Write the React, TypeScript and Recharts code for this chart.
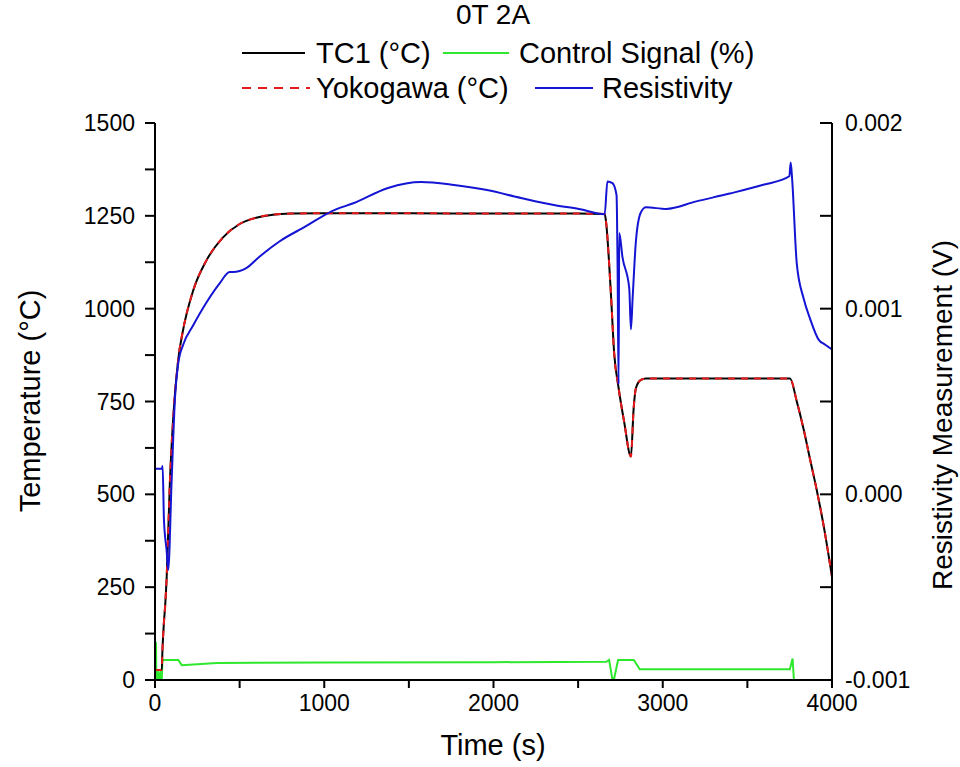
import React from 'react';
import { LineChart, Line, XAxis, YAxis, Legend } from 'recharts';

// ---- data ----
const tcTime = [0, 40, 44, 52, 60, 69, 88, 108, 137, 167, 225, 304, 402, 500, 598, 696, 800, 1000, 1500, 2000, 2500, 2657, 2663, 2693, 2713, 2739, 2772, 2812, 2828, 2842, 2871, 2900, 3300, 3752, 3792, 3832, 3871, 3911, 3950, 4000];
const tcTemp = [27, 27, 80, 150, 200, 276, 533, 708, 862, 945, 1048, 1130, 1192, 1228, 1245, 1253, 1256, 1257, 1257, 1256, 1256, 1255, 1241, 1046, 880, 787, 695, 602, 731, 787, 808, 812, 812, 812, 750, 676, 593, 509, 417, 278];

const ykTime = [0, 40, 44, 52, 60, 69, 88, 108, 137, 167, 225, 304, 402, 500, 598, 696, 800, 1000, 1500, 2000, 2500, 2657, 2663, 2693, 2713, 2739, 2772, 2812, 2828, 2842, 2871, 2900, 3300, 3752, 3792, 3832, 3871, 3911, 3950, 4000];
const ykTemp = [27, 27, 80, 150, 200, 276, 533, 708, 862, 945, 1048, 1130, 1192, 1228, 1245, 1253, 1256, 1257, 1257, 1256, 1256, 1255, 1241, 1046, 880, 787, 695, 602, 731, 787, 808, 812, 812, 812, 750, 676, 593, 509, 417, 278];

const ctrlTime = [0, 6, 8, 14, 16, 26, 34, 40, 44, 138, 158, 366, 1000, 2000, 2667, 2683, 2703, 2711, 2736, 2829, 2864, 3000, 3751, 3767, 3775, 3930];
const ctrlPct = [103, 100, 0, 0, 28, 0, 28, 0, 54, 54, 40, 46, 47, 48, 49, 54, 0, 0, 54, 54, 29, 29, 29, 58, 0, 0];

const resTime = [0, 40, 45, 53, 69, 78, 98, 118, 137, 167, 225, 304, 382, 441, 461, 539, 617, 735, 892, 1049, 1176, 1377, 1572, 1767, 1962, 2162, 2357, 2505, 2657, 2673, 2703, 2727, 2733, 2739, 2743, 2762, 2802, 2812, 2822, 2842, 2871, 2901, 3020, 3198, 3396, 3594, 3748, 3756, 3764, 3792, 3832, 3871, 3921, 3960, 4000];
const resVolt = [0.000138, 0.000138, 0.000152, -0.00014, -0.000305, -0.000407, 0.000066, 0.000519, 0.000704, 0.000807, 0.000909, 0.001033, 0.001136, 0.001197, 0.001197, 0.001218, 0.00128, 0.001362, 0.001444, 0.001527, 0.001569, 0.00165, 0.001682, 0.001666, 0.001639, 0.001596, 0.001558, 0.001537, 0.001509, 0.001685, 0.001676, 0.001611, 0.00124, 0.000593, 0.001407, 0.001278, 0.001111, 0.000889, 0.001056, 0.00137, 0.001519, 0.001546, 0.001537, 0.001578, 0.00162, 0.001667, 0.001713, 0.001787, 0.001704, 0.001241, 0.001056, 0.000944, 0.000833, 0.000806, 0.000781];

const xTicks = [0, 500, 1000, 1500, 2000, 2500, 3000, 3500, 4000];
const tempTicks = [0, 125, 250, 375, 500, 625, 750, 875, 1000, 1125, 1250, 1375, 1500];
const resTicks = [-0.001, -0.0005, 0, 0.0005, 0.001, 0.0015, 0.002];

const title = '0T 2A';
const seriesNames = ['TC1 (°C)', 'Control Signal (%)', 'Yokogawa (°C)', 'Resistivity'];
const axisTitles = { x: 'Time (s)', left: 'Temperature (°C)', right: 'Resistivity Measurement (V)' };

const toRows = (xs: number[], ys: number[]) => xs.map((t, i) => ({ t, v: ys[i] }));
const tcData = toRows(tcTime, tcTemp);
const ykData = toRows(ykTime, ykTemp);
const ctrlData = toRows(ctrlTime, ctrlPct);
const resData = toRows(resTime, resVolt);

const FONT = '"Liberation Sans", Arial, sans-serif';
const COLORS = { tc: '#000000', ctrl: '#2ee82e', yk: '#e8191a', res: '#1414d4' };

const LegendBox = () => (
  <svg width={960} height={123} style={{ display: 'block' }}>
    <text x={493} y={24} textAnchor="middle" fontSize={28} fontFamily={FONT} fill="#000">{title}</text>
    <line x1={242} x2={305} y1={53} y2={53} stroke={COLORS.tc} strokeWidth={2} />
    <text x={316} y={63} fontSize={29} fontFamily={FONT} fill="#000">{seriesNames[0]}</text>
    <line x1={443} x2={509} y1={53} y2={53} stroke={COLORS.ctrl} strokeWidth={2} />
    <text x={519} y={63} fontSize={29} fontFamily={FONT} fill="#000">{seriesNames[1]}</text>
    <line x1={242} x2={310} y1={88} y2={88} stroke={COLORS.yk} strokeWidth={2} strokeDasharray="9 7" />
    <text x={316} y={98} fontSize={29} fontFamily={FONT} fill="#000">{seriesNames[2]}</text>
    <line x1={535} x2={593} y1={88} y2={88} stroke={COLORS.res} strokeWidth={2} />
    <text x={602} y={98} fontSize={29} fontFamily={FONT} fill="#000">{seriesNames[3]}</text>
  </svg>
);

const AxisTitle = ({ px, py, rot, text, size }: { px: number; py: number; rot: number; text: string; size: number }) => (
  <text x={px} y={py} transform={rot ? `rotate(${rot} ${px} ${py})` : undefined} textAnchor="middle" dominantBaseline="central" fontSize={size} fontFamily={FONT} fill="#000">{text}</text>
);

const fmtX = (v: number) => (v % 1000 === 0 ? String(v) : '');
const fmtT = (v: number) => (v % 250 === 0 ? String(v) : '');
const fmtR = (v: number) => {
  const k = v * 1000;
  return Math.abs(k - Math.round(k)) < 1e-6 ? (Math.round(k) / 1000).toFixed(3) : '';
};

const tickStyle = { fill: '#000', fontSize: 23, fontFamily: FONT };
const axisStroke = { stroke: '#000', strokeWidth: 2 };

export default function App() {
  return (
    <div style={{ position: 'absolute', left: 0, top: 0, background: '#fff' }}>
      <LineChart width={960} height={767} margin={{ top: 0, right: 0, bottom: 0, left: 0 }}>
        <Legend verticalAlign="top" align="left" content={() => <LegendBox />} wrapperStyle={{ top: 0, left: 0, width: 960, height: 123 }} />
        <XAxis
          type="number"
          dataKey="t"
          domain={[0, 4000]}
          ticks={xTicks}
          tickFormatter={fmtX}
          interval={0}
          height={87}
          tickSize={8}
          tickMargin={7}
          tick={tickStyle}
          axisLine={axisStroke}
          tickLine={axisStroke}
          allowDataOverflow
          label={<AxisTitle px={493} py={745} rot={0} text={axisTitles.x} size={29} />}
        />
        <YAxis
          yAxisId="temp"
          type="number"
          domain={[0, 1500]}
          ticks={tempTicks}
          tickFormatter={fmtT}
          interval={0}
          width={155}
          tickSize={10}
          tickMargin={10}
          tick={tickStyle}
          axisLine={axisStroke}
          tickLine={axisStroke}
          allowDataOverflow
          label={<AxisTitle px={30} py={401} rot={-90} text={axisTitles.left} size={29} />}
        />
        <YAxis
          yAxisId="res"
          orientation="right"
          type="number"
          domain={[-0.001, 0.002]}
          ticks={resTicks}
          tickFormatter={fmtR}
          interval={0}
          width={128}
          tickSize={-12}
          tickMargin={25}
          tick={tickStyle}
          axisLine={axisStroke}
          tickLine={axisStroke}
          allowDataOverflow
          label={<AxisTitle px={942} py={415} rot={-90} text={axisTitles.right} size={28} />}
        />
        <Line yAxisId="temp" data={ctrlData} dataKey="v" name={seriesNames[1]} type="linear" stroke={COLORS.ctrl} strokeWidth={2} dot={false} isAnimationActive={false} />
        <Line yAxisId="temp" data={tcData} dataKey="v" name={seriesNames[0]} type="monotone" stroke={COLORS.tc} strokeWidth={2} dot={false} isAnimationActive={false} />
        <Line yAxisId="temp" data={ykData} dataKey="v" name={seriesNames[2]} type="monotone" stroke={COLORS.yk} strokeWidth={2} strokeDasharray="7 6" dot={false} isAnimationActive={false} />
        <Line yAxisId="res" data={resData} dataKey="v" name={seriesNames[3]} type="monotone" stroke={COLORS.res} strokeWidth={2} dot={false} isAnimationActive={false} />
      </LineChart>
    </div>
  );
}
